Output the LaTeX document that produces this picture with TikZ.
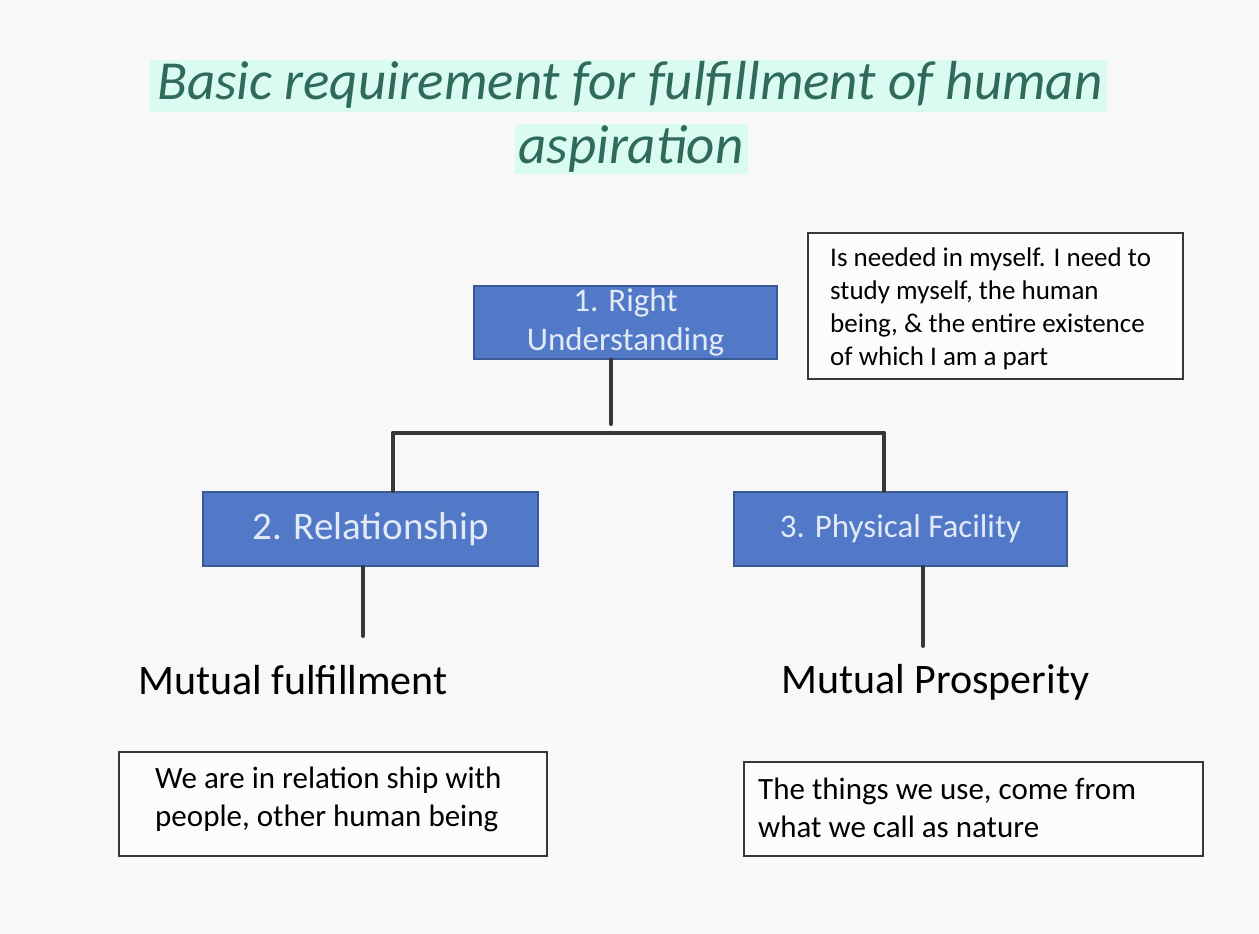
\documentclass[tikz,border=0pt]{standalone}
\usepackage{fontspec}
\setmainfont{Carlito}
\definecolor{bg}{HTML}{F8F8F8}
\definecolor{boxfill}{HTML}{5279C8}
\definecolor{boxedge}{HTML}{3A5A96}
\definecolor{boxtext}{HTML}{E2EAF8}
\definecolor{titlecol}{HTML}{2F6A5A}
\definecolor{hilite}{HTML}{DAFBF1}
\definecolor{linecol}{HTML}{383838}
\begin{document}
\begin{tikzpicture}[x=1pt,y=-1pt,
  bluebox/.style={draw=boxedge,line width=2pt,fill=boxfill,text=boxtext,inner sep=0pt,align=center},
  notebox/.style={draw=linecol,line width=2pt,fill=white!60!bg,inner sep=0pt},
  conn/.style={draw=linecol,line width=4pt,line cap=round},
  notetext/.style={font=\fontsize{27}{33}\selectfont,align=left,anchor=north west,inner sep=0pt}
]
\useasboundingbox[fill=bg] (0,0) rectangle (1259,934);
% title highlights
\fill[hilite] (150,60) rectangle (1107,112);
\fill[hilite] (515,124) rectangle (748,174);
\node[font=\fontsize{55}{60}\selectfont\itshape,text=titlecol,inner sep=0pt] (t1) at (630,85) {Basic requirement for fulfillment of human};
\node[font=\fontsize{55}{60}\selectfont\itshape,text=titlecol,inner sep=0pt] (t2) at (631,149) {aspiration};
% blue boxes
\node[bluebox,minimum width=303pt,minimum height=73pt,font=\fontsize{33}{39}\selectfont] (b1) at (625.5,322) {1. Right\\Understanding};
\node[bluebox,minimum width=335pt,minimum height=74pt,font=\fontsize{39}{44}\selectfont] (b2) at (370.5,529) {2. Relationship};
\node[bluebox,minimum width=333pt,minimum height=74pt,font=\fontsize{33}{38}\selectfont] (b3) at (900.5,529) {3. Physical Facility};
% note box right
\node[notebox,minimum width=375pt,minimum height=146pt] (n1) at (995.5,306) {};
\node[notetext] (n1t) at (830,248) {Is needed in myself. I need to\\study myself, the human\\being, \& the entire existence\\of which I am a part};
% connectors
\coordinate (c1) at (611,424);
\coordinate (barL) at (393,433);
\coordinate (barR) at (884,433);
\draw[conn] (b1.south -| c1) -- (c1);
\draw[conn] (barL) -- (barR);
\draw[conn] (barL) -- (barL |- b2.north);
\draw[conn] (barR) -- (barR |- b3.north);
\coordinate (e2) at (363,636);
\coordinate (e3) at (923,646);
\draw[conn] (b2.south -| e2) -- (e2);
\draw[conn] (b3.south -| e3) -- (e3);
% outcome labels
\node[font=\fontsize{42}{46}\selectfont,anchor=west,inner sep=0pt] (m1) at (138,680) {Mutual fulfillment};
\node[font=\fontsize{42}{46}\selectfont,anchor=west,inner sep=0pt] (m2) at (781,682) {Mutual Prosperity};
% bottom note boxes
\node[notebox,minimum width=428pt,minimum height=104pt] (n2) at (333,804) {};
\node[notetext,font=\fontsize{31}{38}\selectfont] (n2t) at (155,767) {We are in relation ship with\\people, other human being};
\node[notebox,minimum width=459pt,minimum height=94pt] (n3) at (973.5,809) {};
\node[notetext,font=\fontsize{31}{38}\selectfont] (n3t) at (758,778) {The things we use, come from\\what we call as nature};
\end{tikzpicture}
\end{document}
